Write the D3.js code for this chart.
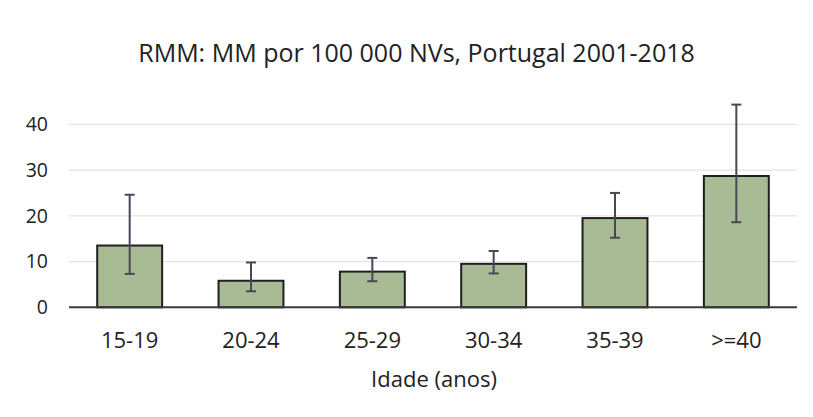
<!DOCTYPE html>
<html>
<head>
<meta charset="utf-8">
<script src="https://cdn.jsdelivr.net/npm/d3@7"></script>
<style>
  html, body { margin: 0; padding: 0; background: #ffffff; }
  svg { display: block; }
  text { font-family: "Open Sans", sans-serif; fill: #222222; }
</style>
</head>
<body>
<svg id="chart" width="813" height="417"></svg>
<script>
const categories = ["15-19", "20-24", "25-29", "30-34", "35-39", ">=40"];
const values = [13.5, 5.8, 7.8, 9.5, 19.5, 28.7];
const errLow = [7.3, 3.5, 5.7, 7.4, 15.2, 18.6];
const errHigh = [24.6, 9.8, 10.8, 12.3, 25.0, 44.3];
const yTicks = [0, 10, 20, 30, 40];
const titleText = "RMM: MM por 100 000 NVs, Portugal 2001-2018";
const xTitleText = "Idade (anos)";

(function () {
const data = categories.map((c, i) => ({ cat: c, v: values[i], lo: errLow[i], hi: errHigh[i] }));

const svg = d3.select("#chart");
const pLeft = 69, pRight = 797, pBottom = 307.3, pTop = 124.3;

const x = d3.scaleBand().domain(categories).range([pLeft, pRight]).paddingInner(0.465).paddingOuter(0.2325);
const y = d3.scaleLinear().domain([0, 40]).range([pBottom, pTop]);

svg.append("rect").attr("width", 813).attr("height", 417).attr("fill", "#ffffff");

// gridlines
svg.append("g").selectAll("line").data(yTicks.filter(t => t > 0)).join("line")
  .attr("x1", pLeft).attr("x2", pRight)
  .attr("y1", d => y(d)).attr("y2", d => y(d))
  .attr("stroke", "#e3e3e8").attr("stroke-width", 1.2);

// y axis labels
const yAxis = d3.axisLeft(y).tickValues(yTicks).tickSize(0).tickPadding(0).tickFormat(d3.format("d"));
const yg = svg.append("g").attr("transform", `translate(48,0)`).call(yAxis);
yg.select(".domain").remove();
yg.selectAll("text").attr("font-size", 19.5).attr("font-family", "Open Sans, sans-serif").attr("fill", "#222222");

// bars
svg.append("g").selectAll("rect").data(data).join("rect")
  .attr("x", d => x(d.cat))
  .attr("y", d => y(d.v))
  .attr("width", x.bandwidth())
  .attr("height", d => y(0) - y(d.v))
  .attr("fill", "#a8bb95")
  .attr("stroke", "#1f1f1f")
  .attr("stroke-width", 2);

// x axis line
svg.append("line").attr("x1", pLeft).attr("x2", pRight).attr("y1", y(0)).attr("y2", y(0))
  .attr("stroke", "#3a3a3a").attr("stroke-width", 2);

// error bars
const eb = svg.append("g").attr("stroke", "#4a4656").attr("stroke-width", 2);
const cx = d => x(d.cat) + x.bandwidth() / 2;
eb.selectAll("line.v").data(data).join("line").attr("class", "v")
  .attr("x1", cx).attr("x2", cx).attr("y1", d => y(d.lo)).attr("y2", d => y(d.hi));
eb.selectAll("line.t").data(data).join("line").attr("class", "t")
  .attr("x1", d => cx(d) - 5).attr("x2", d => cx(d) + 5).attr("y1", d => y(d.hi)).attr("y2", d => y(d.hi));
eb.selectAll("line.b").data(data).join("line").attr("class", "b")
  .attr("x1", d => cx(d) - 5).attr("x2", d => cx(d) + 5).attr("y1", d => y(d.lo)).attr("y2", d => y(d.lo));

// x axis labels
const xAxis = d3.axisBottom(x).tickSize(0).tickPadding(0);
const xg = svg.append("g").attr("transform", `translate(0,${y(0)})`).call(xAxis);
xg.select(".domain").remove();
xg.selectAll("text").attr("font-size", 22).attr("font-family", "Open Sans, sans-serif").attr("fill", "#222222")
  .attr("dy", null).attr("y", 348.3 - y(0));

// axis title
svg.append("text").attr("x", 434).attr("y", 386.7).attr("text-anchor", "middle")
  .attr("font-size", 22).text(xTitleText);

// chart title
svg.append("text").attr("x", 416.5).attr("y", 61.7).attr("text-anchor", "middle")
  .attr("font-size", 25).text(titleText);
})();
</script>
</body>
</html>
